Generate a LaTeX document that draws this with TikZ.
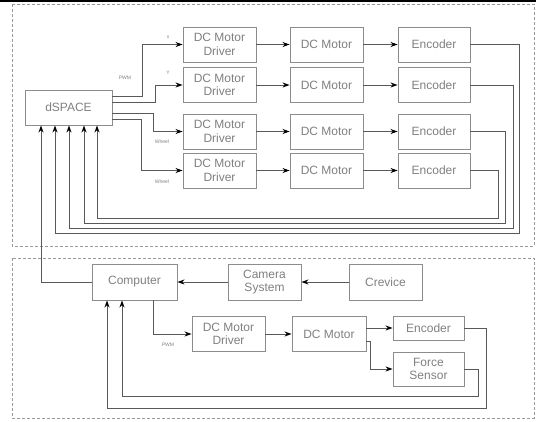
\documentclass[tikz,border=0pt]{standalone}
\usepackage{fontspec}
\setmainfont{Liberation Sans}
\usetikzlibrary{arrows.meta}
\definecolor{boxc}{gray}{0.55}
\definecolor{linec}{gray}{0.35}
\definecolor{txtc}{gray}{0.5}
\definecolor{dashc}{gray}{0.6}
\begin{document}
\begin{tikzpicture}[x=1pt,y=-1pt,
  blk/.style={draw=boxc,line width=0.9pt,fill=white,text=txtc,align=center,inner sep=0pt,
    font=\fontsize{12}{13.5}\selectfont,minimum height=35pt},
  arr/.style={draw=linec,line width=0.9pt,-{Stealth[length=7pt,width=5pt,color=black]}},
  ln/.style={draw=linec,line width=0.9pt},
  lbl/.style={text=txtc,font=\fontsize{5}{6}\selectfont,inner sep=0pt},
  panel/.style={draw=dashc,line width=0.9pt,dash pattern=on 3pt off 2pt}]
\useasboundingbox (0,0) rectangle (536,421);
\draw[line width=1.6pt] (0,0.8) -- (536,0.8);
\draw[panel] (12,4) rectangle (534,246);
\draw[panel] (12,258) rectangle (534,418);
% top nodes
\node[blk,minimum width=87pt] (ds) at (68.5,107.5) {dSPACE};
\foreach \i/\y in {1/44.5,2/85,3/131.5,4/170.5}{
  \node[blk,minimum width=73pt] (d\i) at (219.5,\y) {DC Motor\\Driver};
  \node[blk,minimum width=73pt] (m\i) at (326.5,\y) {DC Motor};
  \node[blk,minimum width=72pt] (e\i) at (434,\y) {Encoder};
  \draw[arr] (d\i) -- (m\i);
  \draw[arr] (m\i) -- (e\i);
}
\draw[arr] ([yshift=11.5pt]ds.east) -- ++(30,0) |- (d1.west);
\draw[arr] ([yshift=5.5pt]ds.east) -- ++(43,0) |- (d2.west);
\draw[arr] ([yshift=-5.5pt]ds.east) -- ++(41,0) |- (d3.west);
\draw[arr] ([yshift=-11.5pt]ds.east) -- ++(29,0) |- (d4.west);
\node[lbl] at (168,37) {x};
\node[lbl] at (125,78) {PWM};
\node[lbl] at (168,73) {Y};
\node[lbl] at (162,142) {Wheel};
\node[lbl] at (162,182) {Wheel};
\draw[arr] (e1.east) -| (519,233) -| ([xshift=-13.5pt]ds.south);
\draw[arr] (e2.east) -| (513,228) -| ([xshift=0.5pt]ds.south);
\draw[arr] (e3.east) -| (505,223) -| ([xshift=15.5pt]ds.south);
\draw[arr] (e4.east) -| (498,218) -| ([xshift=28.5pt]ds.south);
% bottom nodes
\node[blk,minimum width=85pt,minimum height=36pt] (comp) at (134.5,282) {Computer};
\node[blk,minimum width=73pt,minimum height=36pt] (cam) at (264.5,282) {Camera\\System};
\node[blk,minimum width=73pt,minimum height=36pt] (crev) at (385.5,282) {Crevice};
\node[blk,minimum width=73pt] (bd) at (228.5,334) {DC Motor\\Driver};
\node[blk,minimum width=74pt] (bm) at (329,334) {DC Motor};
\node[blk,minimum width=71pt,minimum height=24pt] (enc) at (428.5,328) {Encoder};
\node[blk,minimum width=71pt,minimum height=34pt] (fs) at (428.5,369) {Force\\Sensor};
\draw[arr] (crev) -- (cam);
\draw[arr] (cam) -- (comp);
\draw[arr] (comp.west) -| ([xshift=-27.5pt]ds.south);
\draw[arr] ([xshift=18.5pt]comp.south) |- (bd.west);
\node[lbl] at (168,345) {PWM};
\draw[arr] (bd) -- (bm);
\draw[arr] ([yshift=6pt]bm.east) -- (enc.west);
\draw[arr] ([yshift=-7pt]bm.east) -- ++(4,0) |- (fs.west);
\draw[arr] (enc.east) -| (486,408) -| ([xshift=-27.5pt]comp.south);
\draw[arr] (fs.east) -| (478,396) -| ([xshift=-12.5pt]comp.south);
\end{tikzpicture}
\end{document}
